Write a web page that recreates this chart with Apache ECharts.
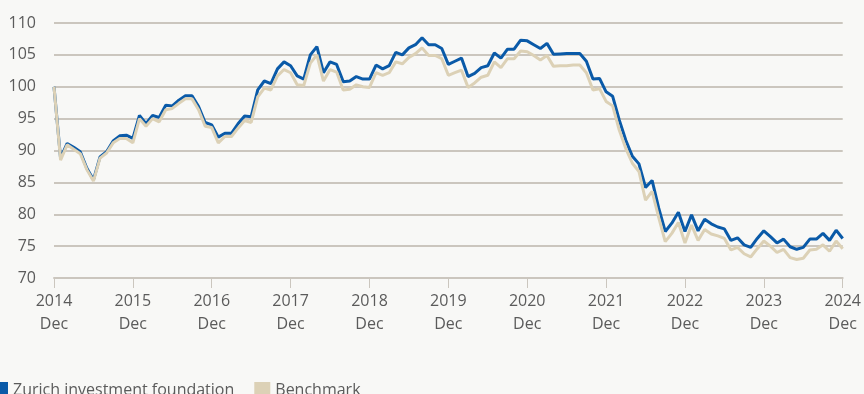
<!DOCTYPE html>
<html>
<head>
<meta charset="utf-8">
<script src="https://cdn.jsdelivr.net/npm/echarts@6/dist/echarts.min.js"></script>
<style>
html,body{margin:0;padding:0;background:#f8f8f6;}
#chart{width:864px;height:394px;}
</style>
</head>
<body>
<div id="chart"></div>
<script>
// Tick labels (years, each tick at December)
const tickYears = ['2014','2015','2016','2017','2018','2019','2020','2021','2022','2023','2024'];
const tickMonth = 'Dec';

// Monthly values, Dec 2014 .. Dec 2024 (121 points)
const fundValues = [
  100.0, 88.8, 91.1, 90.5, 89.8, 87.2, 85.4, 89.0, 89.8, 91.5, 92.3, 92.4,
  91.9, 95.5, 94.2, 95.5, 95.2, 97.1, 97.0, 97.9, 98.6, 98.6, 96.9, 94.4,
  94.0, 92.1, 92.7, 92.7, 94.2, 95.4, 95.3, 99.5, 100.9, 100.5, 102.8, 103.9,
  103.3, 101.7, 101.2, 105.0, 106.3, 102.2, 103.9, 103.5, 100.8, 100.9, 101.6, 101.2,
  101.2, 103.4, 102.8, 103.3, 105.4, 105.0, 106.1, 106.6, 107.7, 106.6, 106.6, 106.0,
  103.5, 104.0, 104.5, 101.6, 102.1, 103.0, 103.3, 105.3, 104.5, 105.9, 105.9, 107.3,
  107.2, 106.6, 106.0, 106.8, 105.1, 105.15, 105.2, 105.2, 105.2, 104.0, 101.2, 101.3,
  99.2, 98.5, 94.8, 91.6, 89.1, 87.9, 84.2, 85.3, 81.0, 77.3, 78.6, 80.3,
  77.3, 79.9, 77.4, 79.2, 78.5, 78.0, 77.7, 75.9, 76.3, 75.2, 74.8, 76.2,
  77.4, 76.5, 75.5, 76.1, 74.9, 74.5, 74.8, 76.1, 76.1, 77.0, 75.9, 77.5,
  76.2
];
const benchmarkValues = [
  100.0, 88.5, 90.9, 90.2, 89.5, 87.0, 85.2, 88.8, 89.6, 91.2, 91.9, 91.9,
  91.2, 95.0, 93.8, 95.0, 94.5, 96.4, 96.6, 97.4, 98.1, 98.1, 96.4, 93.8,
  93.6, 91.2, 92.2, 92.2, 93.5, 94.7, 94.4, 98.4, 99.8, 99.5, 101.7, 102.7,
  102.2, 100.3, 100.2, 103.7, 105.0, 100.9, 102.7, 102.3, 99.5, 99.6, 100.3, 100.0,
  99.9, 102.2, 101.8, 102.2, 103.9, 103.6, 104.6, 105.2, 106.1, 104.9, 104.9, 104.4,
  101.8, 102.2, 102.6, 99.9, 100.6, 101.5, 101.8, 103.9, 103.0, 104.4, 104.4, 105.6,
  105.5, 104.9, 104.2, 104.9, 103.2, 103.3, 103.3, 103.4, 103.4, 102.2, 99.5, 99.7,
  97.7, 97.0, 93.2, 90.3, 88.0, 86.7, 82.2, 83.6, 79.5, 75.7, 77.0, 78.7,
  75.5, 78.3, 75.9, 77.6, 76.9, 76.6, 76.2, 74.4, 74.8, 73.8, 73.3, 74.6,
  75.8, 75.0, 74.0, 74.5, 73.2, 72.9, 73.1, 74.4, 74.5, 75.2, 74.2, 75.8,
  74.6
];
const seriesNames = ['Zurich investment foundation', 'Benchmark'];

// Month categories built from tick years (Dec of first year to Dec of last year)
const monthNames = ['Jan','Feb','Mar','Apr','May','Jun','Jul','Aug','Sep','Oct','Nov','Dec'];
const categories = [];
const firstYear = parseInt(tickYears[0], 10);
for (let i = 0; i < fundValues.length; i++) {
  const m = (11 + i) % 12;
  const y = firstYear + Math.floor((11 + i) / 12);
  categories.push(monthNames[m] + ' ' + y);
}

const chart = echarts.init(document.getElementById('chart'), null, {renderer: 'canvas'});
const gridColor = '#cbc6be';
const textColor = '#5b5b5b';
const font = '"Open Sans", "Noto Sans", sans-serif';

chart.setOption({
  backgroundColor: '#f8f8f6',
  animation: false,
  grid: {left: 54, right: 16, top: 23, bottom: 116, containLabel: false},
  legend: {
    left: -13, top: 377,
    icon: 'rect', itemWidth: 16, itemHeight: 17, itemGap: 20,
    textStyle: {color: textColor, fontSize: 16, fontFamily: font},
    data: seriesNames
  },
  xAxis: {
    type: 'category',
    data: categories,
    boundaryGap: false,
    axisLine: {show: true, lineStyle: {color: gridColor, width: 2}},
    axisTick: {show: true, length: 10, lineStyle: {color: gridColor, width: 1},
      interval: function (idx) { return idx % 12 === 0; }},
    axisLabel: {
      interval: function (idx) { return idx % 12 === 0; },
      formatter: function (v, idx) { return tickYears[idx / 12] + '\n' + tickMonth; },
      color: textColor, fontSize: 16, fontFamily: font, lineHeight: 23, margin: 12,
      showMaxLabel: true
    },
    splitLine: {show: false}
  },
  yAxis: {
    type: 'value', min: 70, max: 110, interval: 5,
    axisLine: {show: false}, axisTick: {show: false},
    axisLabel: {color: textColor, fontSize: 16, fontFamily: font, margin: 18},
    splitLine: {show: true, lineStyle: {color: gridColor, width: 2}}
  },
  series: [
    {name: seriesNames[0], type: 'line', data: fundValues, symbol: 'none',
     lineStyle: {color: '#0a5aa8', width: 3}, itemStyle: {color: '#0a5aa8'}, z: 2},
    {name: seriesNames[1], type: 'line', data: benchmarkValues, symbol: 'none',
     lineStyle: {color: '#dcd1b6', width: 3}, itemStyle: {color: '#dcd1b6'}, z: 3}
  ]
});
</script>
</body>
</html>
